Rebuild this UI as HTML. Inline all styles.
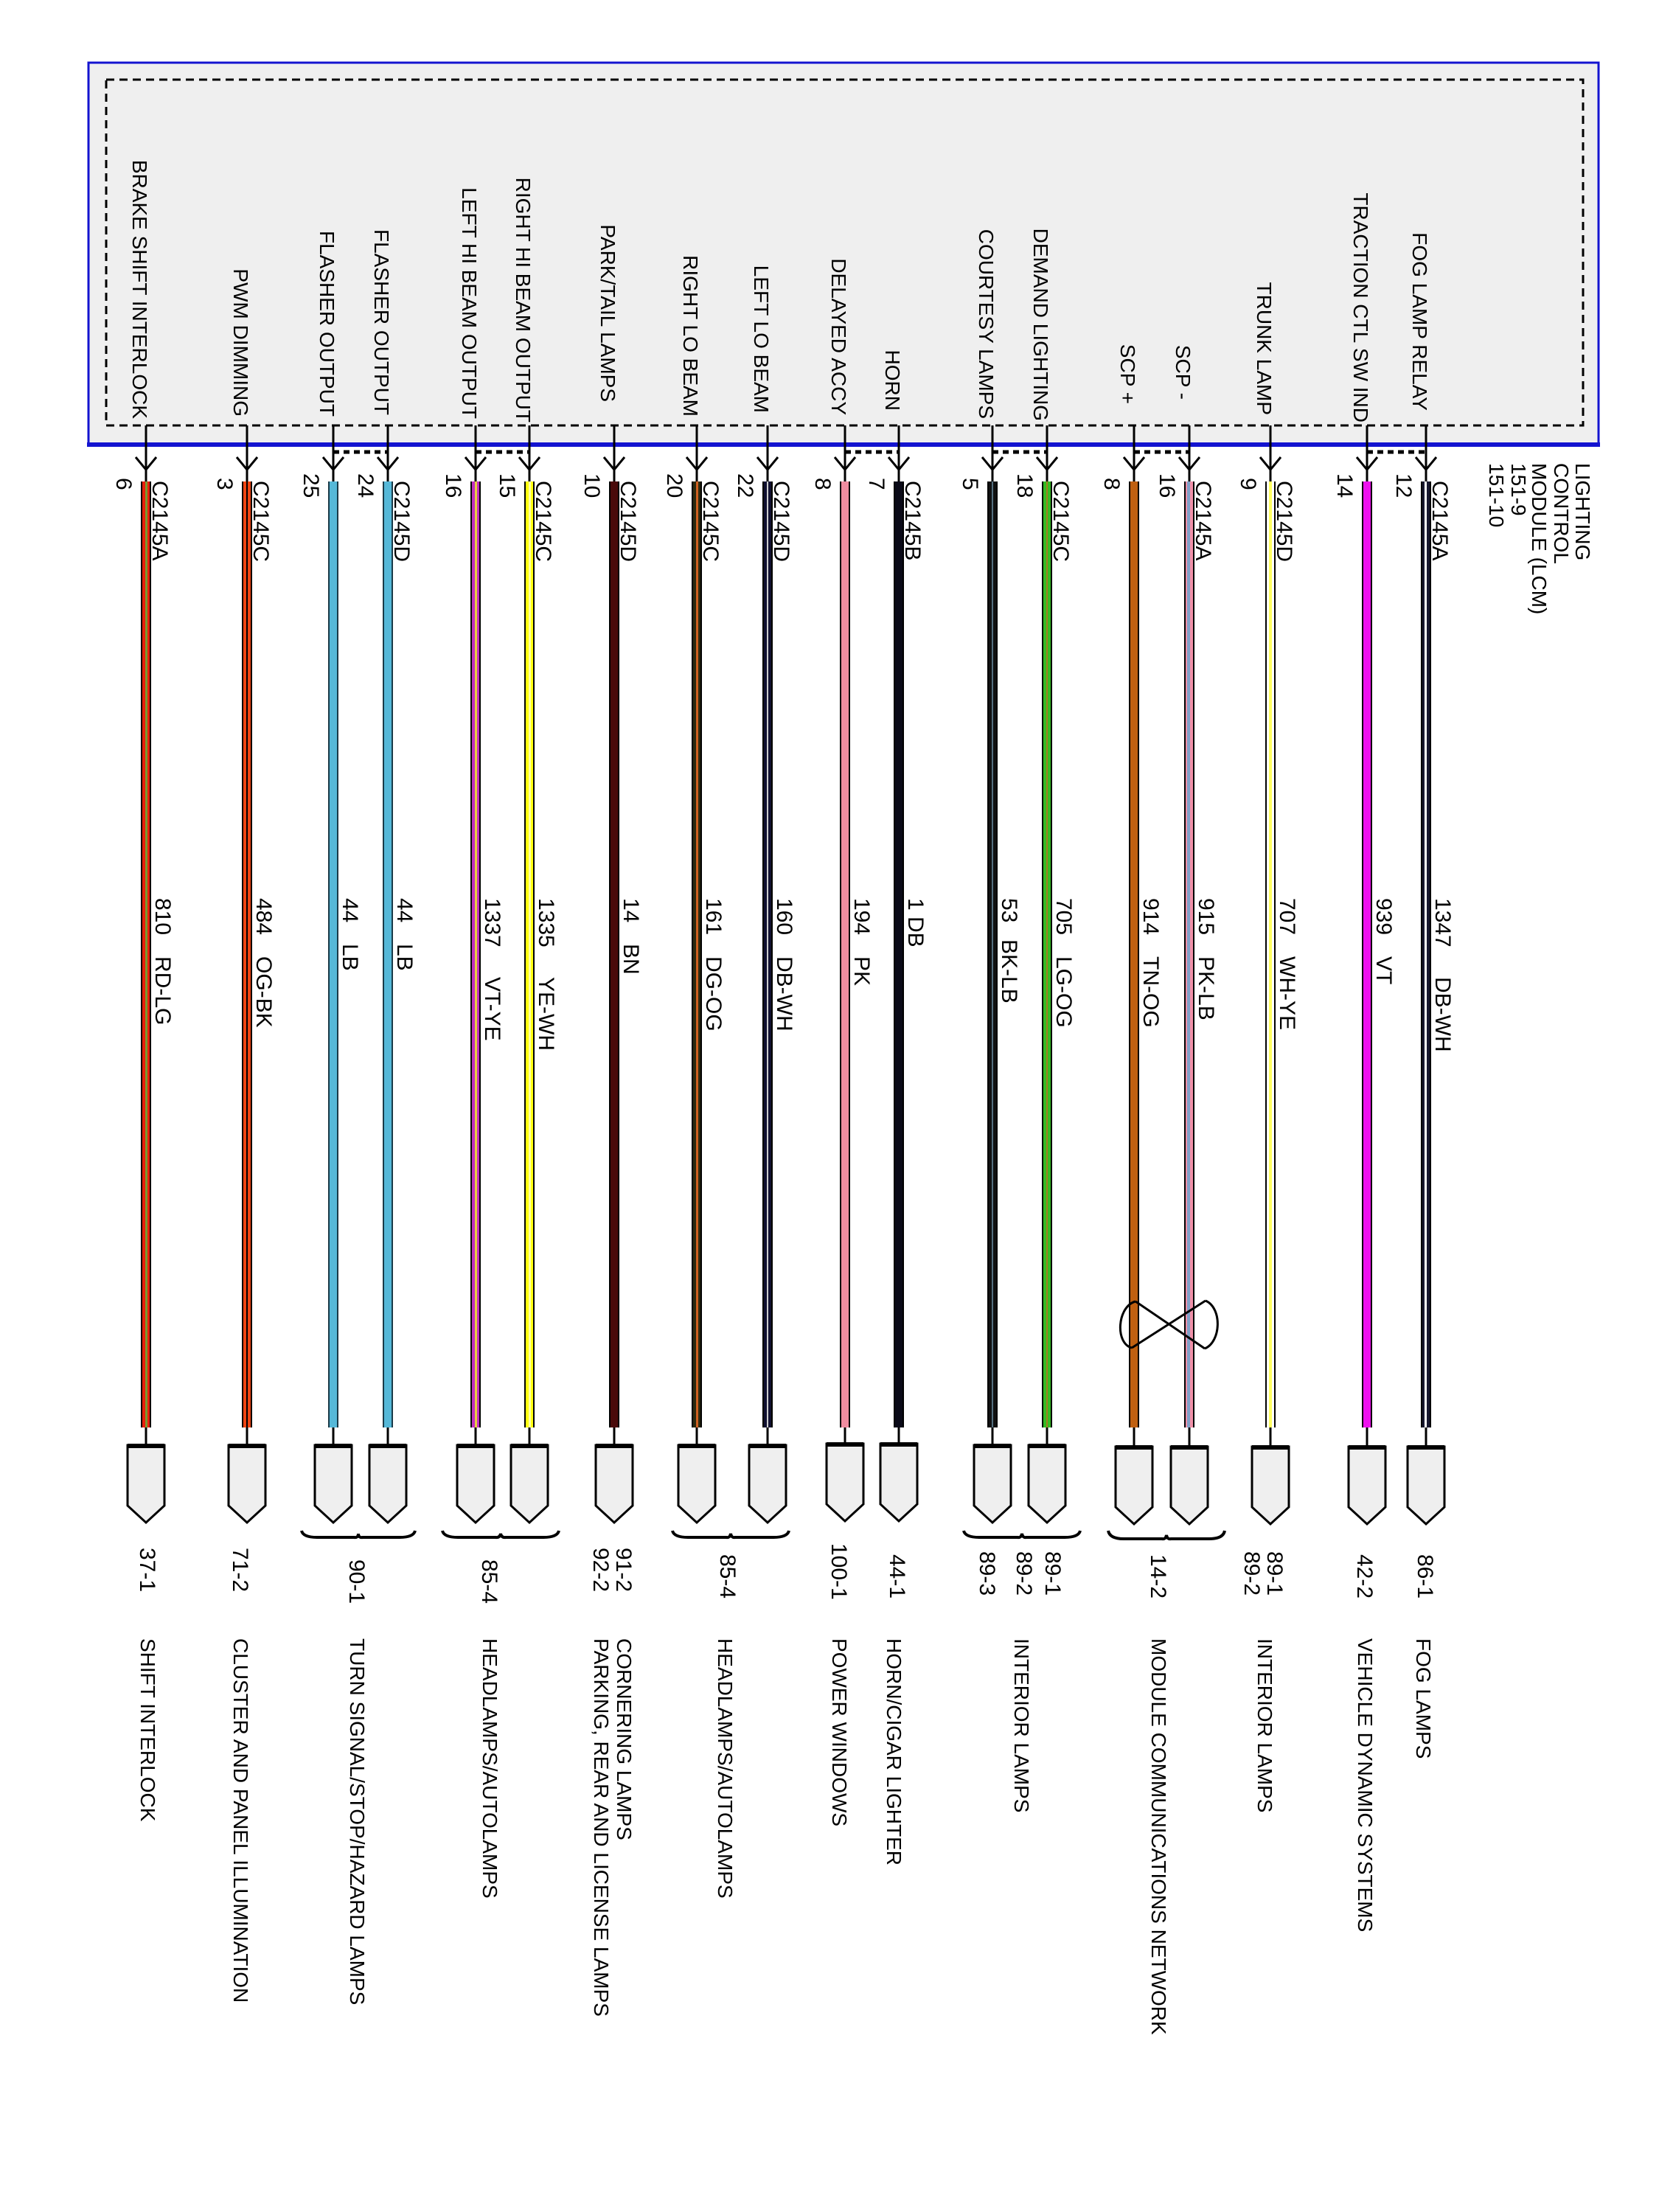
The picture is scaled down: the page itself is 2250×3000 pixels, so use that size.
<!DOCTYPE html>
<html><head><meta charset="utf-8"><style>
html,body{margin:0;padding:0;background:#fff}
svg{display:block}
text{font-family:"Liberation Sans",Arial,sans-serif;fill:#000}
.t{font-size:28px}
.s{font-size:30px}
</style></head><body>
<svg width="2250" height="3000" viewBox="0 0 2250 3000" xmlns="http://www.w3.org/2000/svg">
<rect width="2250" height="3000" fill="#fff"/>
<rect x="120" y="85" width="2048" height="518" fill="#efefef" stroke="#1414d0" stroke-width="3"/>
<line x1="118" y1="603" x2="2170" y2="603" stroke="#1414d0" stroke-width="6"/>
<rect x="144" y="108" width="2003" height="469" fill="none" stroke="#000" stroke-width="3" stroke-dasharray="11 7"/>

<g class="t">
<text transform="translate(180,568) rotate(90)" text-anchor="end">BRAKE SHIFT INTERLOCK</text>
<text transform="translate(317,565) rotate(90)" text-anchor="end">PWM DIMMING</text>
<text transform="translate(434,565) rotate(90)" text-anchor="end">FLASHER OUTPUT</text>
<text transform="translate(508,563) rotate(90)" text-anchor="end">FLASHER OUTPUT</text>
<text transform="translate(627,568) rotate(90)" text-anchor="end">LEFT HI BEAM OUTPUT</text>
<text transform="translate(700,573) rotate(90)" text-anchor="end">RIGHT HI BEAM OUTPUT</text>
<text transform="translate(815,545) rotate(90)" text-anchor="end">PARK/TAIL LAMPS</text>
<text transform="translate(927,565) rotate(90)" text-anchor="end">RIGHT LO BEAM</text>
<text transform="translate(1023,560) rotate(90)" text-anchor="end">LEFT LO BEAM</text>
<text transform="translate(1128,563) rotate(90)" text-anchor="end">DELAYED ACCY</text>
<text transform="translate(1201,557) rotate(90)" text-anchor="end">HORN</text>
<text transform="translate(1328,568) rotate(90)" text-anchor="end">COURTESY LAMPS</text>
<text transform="translate(1402,571) rotate(90)" text-anchor="end">DEMAND LIGHTING</text>
<text transform="translate(1520,548) rotate(90)" text-anchor="end">SCP +</text>
<text transform="translate(1595,542) rotate(90)" text-anchor="end">SCP -</text>
<text transform="translate(1705,563) rotate(90)" text-anchor="end">TRUNK LAMP</text>
<text transform="translate(1836,573) rotate(90)" text-anchor="end">TRACTION CTL SW IND</text>
<text transform="translate(1916,557) rotate(90)" text-anchor="end">FOG LAMP RELAY</text>
</g>

<g stroke="#000" stroke-width="5" stroke-dasharray="8 6">
<line x1="452" y1="613" x2="526" y2="613"/>
<line x1="645" y1="613" x2="718" y2="613"/>
<line x1="1146" y1="613" x2="1219" y2="613"/>
<line x1="1346" y1="613" x2="1420" y2="613"/>
<line x1="1538" y1="613" x2="1613" y2="613"/>
<line x1="1854" y1="613" x2="1934" y2="613"/>
</g>

<g stroke="#000" stroke-width="3" fill="none">
<path d="M198 577V655M184 620L198 637L212 620"/>
<path d="M335 577V655M321 620L335 637L349 620"/>
<path d="M452 577V655M438 620L452 637L466 620"/>
<path d="M526 577V655M512 620L526 637L540 620"/>
<path d="M645 577V655M631 620L645 637L659 620"/>
<path d="M718 577V655M704 620L718 637L732 620"/>
<path d="M833 577V655M819 620L833 637L847 620"/>
<path d="M945 577V655M931 620L945 637L959 620"/>
<path d="M1041 577V655M1027 620L1041 637L1055 620"/>
<path d="M1146 577V655M1132 620L1146 637L1160 620"/>
<path d="M1219 577V655M1205 620L1219 637L1233 620"/>
<path d="M1346 577V655M1332 620L1346 637L1360 620"/>
<path d="M1420 577V655M1406 620L1420 637L1434 620"/>
<path d="M1538 577V655M1524 620L1538 637L1552 620"/>
<path d="M1613 577V655M1599 620L1613 637L1627 620"/>
<path d="M1723 577V655M1709 620L1723 637L1737 620"/>
<path d="M1854 577V655M1840 620L1854 637L1868 620"/>
<path d="M1934 577V655M1920 620L1934 637L1948 620"/>
</g>

<g stroke="#000" stroke-width="3">
<line x1="198" y1="1930" x2="198" y2="1962"/><line x1="335" y1="1930" x2="335" y2="1962"/>
<line x1="452" y1="1930" x2="452" y2="1962"/><line x1="526" y1="1930" x2="526" y2="1962"/>
<line x1="645" y1="1930" x2="645" y2="1962"/><line x1="718" y1="1930" x2="718" y2="1962"/>
<line x1="833" y1="1930" x2="833" y2="1962"/><line x1="945" y1="1930" x2="945" y2="1962"/>
<line x1="1041" y1="1930" x2="1041" y2="1962"/><line x1="1146" y1="1930" x2="1146" y2="1962"/>
<line x1="1219" y1="1930" x2="1219" y2="1962"/><line x1="1346" y1="1930" x2="1346" y2="1962"/>
<line x1="1420" y1="1930" x2="1420" y2="1962"/><line x1="1538" y1="1930" x2="1538" y2="1962"/>
<line x1="1613" y1="1930" x2="1613" y2="1962"/><line x1="1723" y1="1930" x2="1723" y2="1962"/>
<line x1="1854" y1="1930" x2="1854" y2="1962"/><line x1="1934" y1="1930" x2="1934" y2="1962"/>
</g>

<g>
<rect x="191" y="653" width="14" height="1283" fill="#000"/><rect x="193" y="653" width="10" height="1283" fill="#e8200c"/><rect x="197" y="653" width="3" height="1283" fill="#7a9a30"/>
<rect x="328" y="653" width="14" height="1283" fill="#000"/><rect x="330" y="653" width="10" height="1283" fill="#f04412"/><rect x="334" y="653" width="2" height="1283" fill="#000"/>
<rect x="445" y="653" width="14" height="1283" fill="#1a3a48"/><rect x="447" y="653" width="10" height="1283" fill="#55b8d8"/>
<rect x="519" y="653" width="14" height="1283" fill="#1a3a48"/><rect x="521" y="653" width="10" height="1283" fill="#55b8d8"/>
<rect x="638" y="653" width="14" height="1283" fill="#000"/><rect x="640" y="653" width="10" height="1283" fill="#c030c0"/><rect x="644" y="653" width="3" height="1283" fill="#e8d040"/>
<rect x="711" y="653" width="14" height="1283" fill="#000"/><rect x="713" y="653" width="10" height="1283" fill="#ffff10"/><rect x="717" y="653" width="3" height="1283" fill="#ffffa0"/>
<rect x="826" y="653" width="14" height="1283" fill="#000"/><rect x="828" y="653" width="10" height="1283" fill="#4a0a0a"/>
<rect x="938" y="653" width="14" height="1283" fill="#000"/><rect x="940" y="653" width="10" height="1283" fill="#2a2a10"/><rect x="944" y="653" width="3" height="1283" fill="#d06020"/>
<rect x="1034" y="653" width="14" height="1283" fill="#000"/><rect x="1036" y="653" width="10" height="1283" fill="#101030"/><rect x="1040" y="653" width="2" height="1283" fill="#cccccc"/>
<rect x="1139" y="653" width="14" height="1283" fill="#000"/><rect x="1141" y="653" width="10" height="1283" fill="#f08ca0"/>
<rect x="1212" y="653" width="14" height="1283" fill="#000"/><rect x="1214" y="653" width="10" height="1283" fill="#0a0a18"/>
<rect x="1339" y="653" width="14" height="1283" fill="#000"/><rect x="1341" y="653" width="10" height="1283" fill="#111"/><rect x="1345" y="653" width="2" height="1283" fill="#557080"/>
<rect x="1413" y="653" width="14" height="1283" fill="#000"/><rect x="1415" y="653" width="10" height="1283" fill="#33bb22"/><rect x="1419" y="653" width="2" height="1283" fill="#a08020"/>
<rect x="1531" y="653" width="14" height="1283" fill="#000"/><rect x="1533" y="653" width="10" height="1283" fill="#c06010"/>
<rect x="1606" y="653" width="14" height="1283" fill="#000"/><rect x="1608" y="653" width="10" height="1283" fill="#f090a8"/><rect x="1610" y="653" width="4" height="1283" fill="#80a0c8"/>
<rect x="1716" y="653" width="14" height="1283" fill="#000"/><rect x="1718" y="653" width="10" height="1283" fill="#fff"/><rect x="1721" y="653" width="4" height="1283" fill="#ffff60"/>
<rect x="1847" y="653" width="14" height="1283" fill="#000"/><rect x="1849" y="653" width="10" height="1283" fill="#ee10ee"/>
<rect x="1927" y="653" width="14" height="1283" fill="#000"/><rect x="1929" y="653" width="10" height="1283" fill="#181830"/><rect x="1932" y="653" width="3" height="1283" fill="#fff"/>
</g>

<g class="s">
<text transform="translate(158,648) rotate(90)">6</text>
<text transform="translate(295,648) rotate(90)">3</text>
<text transform="translate(412,642) rotate(90)">25</text>
<text transform="translate(486,642) rotate(90)">24</text>
<text transform="translate(605,642) rotate(90)">16</text>
<text transform="translate(678,642) rotate(90)">15</text>
<text transform="translate(793,642) rotate(90)">10</text>
<text transform="translate(905,642) rotate(90)">20</text>
<text transform="translate(1001,642) rotate(90)">22</text>
<text transform="translate(1106,648) rotate(90)">8</text>
<text transform="translate(1179,648) rotate(90)">7</text>
<text transform="translate(1306,648) rotate(90)">5</text>
<text transform="translate(1380,642) rotate(90)">18</text>
<text transform="translate(1498,648) rotate(90)">8</text>
<text transform="translate(1573,642) rotate(90)">16</text>
<text transform="translate(1683,648) rotate(90)">9</text>
<text transform="translate(1814,642) rotate(90)">14</text>
<text transform="translate(1894,642) rotate(90)">12</text>
</g>
<g class="s">
<text transform="translate(207,652) rotate(90)">C2145A</text>
<text transform="translate(344,652) rotate(90)">C2145C</text>
<text transform="translate(535,652) rotate(90)">C2145D</text>
<text transform="translate(727,652) rotate(90)">C2145C</text>
<text transform="translate(842,652) rotate(90)">C2145D</text>
<text transform="translate(954,652) rotate(90)">C2145C</text>
<text transform="translate(1050,652) rotate(90)">C2145D</text>
<text transform="translate(1228,652) rotate(90)">C2145B</text>
<text transform="translate(1429,652) rotate(90)">C2145C</text>
<text transform="translate(1622,652) rotate(90)">C2145A</text>
<text transform="translate(1732,652) rotate(90)">C2145D</text>
<text transform="translate(1943,652) rotate(90)">C2145A</text>
</g>
<g class="t">
<text transform="translate(2137,628) rotate(90)">LIGHTING</text>
<text transform="translate(2108,628) rotate(90)">CONTROL</text>
<text transform="translate(2078,628) rotate(90)">MODULE (LCM)</text>
<text transform="translate(2050,628) rotate(90)">151-9</text>
<text transform="translate(2020,628) rotate(90)">151-10</text>
</g>

<g class="s">
<text transform="translate(211,1218) rotate(90)">810</text><text transform="translate(211,1297) rotate(90)">RD-LG</text>
<text transform="translate(348,1218) rotate(90)">484</text><text transform="translate(348,1297) rotate(90)">OG-BK</text>
<text transform="translate(465,1218) rotate(90)">44</text><text transform="translate(465,1280) rotate(90)">LB</text>
<text transform="translate(539,1218) rotate(90)">44</text><text transform="translate(539,1280) rotate(90)">LB</text>
<text transform="translate(658,1218) rotate(90)">1337</text><text transform="translate(658,1325) rotate(90)">VT-YE</text>
<text transform="translate(731,1218) rotate(90)">1335</text><text transform="translate(731,1325) rotate(90)">YE-WH</text>
<text transform="translate(846,1218) rotate(90)">14</text><text transform="translate(846,1280) rotate(90)">BN</text>
<text transform="translate(958,1218) rotate(90)">161</text><text transform="translate(958,1297) rotate(90)">DG-OG</text>
<text transform="translate(1054,1218) rotate(90)">160</text><text transform="translate(1054,1297) rotate(90)">DB-WH</text>
<text transform="translate(1159,1218) rotate(90)">194</text><text transform="translate(1159,1297) rotate(90)">PK</text>
<text transform="translate(1232,1218) rotate(90)">1 DB</text>
<text transform="translate(1359,1218) rotate(90)">53</text><text transform="translate(1359,1274) rotate(90)">BK-LB</text>
<text transform="translate(1433,1218) rotate(90)">705</text><text transform="translate(1433,1297) rotate(90)">LG-OG</text>
<text transform="translate(1551,1218) rotate(90)">914</text><text transform="translate(1551,1297) rotate(90)">TN-OG</text>
<text transform="translate(1626,1218) rotate(90)">915</text><text transform="translate(1626,1297) rotate(90)">PK-LB</text>
<text transform="translate(1736,1218) rotate(90)">707</text><text transform="translate(1736,1297) rotate(90)">WH-YE</text>
<text transform="translate(1867,1218) rotate(90)">939</text><text transform="translate(1867,1297) rotate(90)">VT</text>
<text transform="translate(1947,1218) rotate(90)">1347</text><text transform="translate(1947,1325) rotate(90)">DB-WH</text>
</g>

<g stroke="#000" stroke-width="3" fill="none">
<path d="M1540 1765 L1634 1829 M1535 1828 L1635 1764"/>
<path d="M1540 1765 C1515 1772 1512 1822 1535 1828"/>
<path d="M1635 1764 C1658 1774 1656 1820 1634 1829"/>
</g>

<g fill="#efefef" stroke="#000" stroke-width="3">
<path d="M173 1960H223V2042L198 2065L173 2042Z"/>
<path d="M310 1960H360V2042L335 2065L310 2042Z"/>
<path d="M427 1960H477V2042L452 2065L427 2042Z"/>
<path d="M501 1960H551V2042L526 2065L501 2042Z"/>
<path d="M620 1960H670V2042L645 2065L620 2042Z"/>
<path d="M693 1960H743V2042L718 2065L693 2042Z"/>
<path d="M808 1960H858V2042L833 2065L808 2042Z"/>
<path d="M920 1960H970V2042L945 2065L920 2042Z"/>
<path d="M1016 1960H1066V2042L1041 2065L1016 2042Z"/>
<path d="M1121 1958H1171V2040L1146 2063L1121 2040Z"/>
<path d="M1194 1958H1244V2040L1219 2063L1194 2040Z"/>
<path d="M1321 1960H1371V2042L1346 2065L1321 2042Z"/>
<path d="M1395 1960H1445V2042L1420 2065L1395 2042Z"/>
<path d="M1513 1962H1563V2044L1538 2067L1513 2044Z"/>
<path d="M1588 1962H1638V2044L1613 2067L1588 2044Z"/>
<path d="M1698 1962H1748V2044L1723 2067L1698 2044Z"/>
<path d="M1829 1962H1879V2044L1854 2067L1829 2044Z"/>
<path d="M1909 1962H1959V2044L1934 2067L1909 2044Z"/>
</g>
<g stroke="#000" stroke-width="6">
<line x1="173" y1="1961" x2="223" y2="1961"/><line x1="310" y1="1961" x2="360" y2="1961"/>
<line x1="427" y1="1961" x2="477" y2="1961"/><line x1="501" y1="1961" x2="551" y2="1961"/>
<line x1="620" y1="1961" x2="670" y2="1961"/><line x1="693" y1="1961" x2="743" y2="1961"/>
<line x1="808" y1="1961" x2="858" y2="1961"/><line x1="920" y1="1961" x2="970" y2="1961"/>
<line x1="1016" y1="1961" x2="1066" y2="1961"/><line x1="1121" y1="1959" x2="1171" y2="1959"/>
<line x1="1194" y1="1959" x2="1244" y2="1959"/><line x1="1321" y1="1961" x2="1371" y2="1961"/>
<line x1="1395" y1="1961" x2="1445" y2="1961"/><line x1="1513" y1="1963" x2="1563" y2="1963"/>
<line x1="1588" y1="1963" x2="1638" y2="1963"/><line x1="1698" y1="1963" x2="1748" y2="1963"/>
<line x1="1829" y1="1963" x2="1879" y2="1963"/><line x1="1909" y1="1963" x2="1959" y2="1963"/>
</g>

<g stroke="#000" stroke-width="4" fill="none">
<path d="M409 2076Q411 2085 430 2085H480Q486 2086 486 2080Q486 2086 492 2085H542Q561 2085 563 2076"/>
<path d="M600 2076Q602 2085 621 2085H672Q678 2086 679 2080Q680 2086 686 2085H737Q756 2085 758 2076"/>
<path d="M912 2076Q914 2085 933 2085H985Q990 2086 991 2080Q992 2086 997 2085H1049Q1068 2085 1070 2076"/>
<path d="M1307 2076Q1309 2085 1328 2085H1380Q1385 2086 1386 2080Q1387 2086 1392 2085H1444Q1463 2085 1465 2076"/>
<path d="M1503 2076Q1505 2087 1524 2087H1576Q1581 2088 1582 2082Q1583 2088 1588 2087H1640Q1659 2087 1661 2076"/>
</g>

<g class="s">
<text transform="translate(190,2099) rotate(90)">37-1</text>
<text transform="translate(316,2099) rotate(90)">71-2</text>
<text transform="translate(474,2115) rotate(90)">90-1</text>
<text transform="translate(654,2115) rotate(90)">85-4</text>
<text transform="translate(836,2099) rotate(90)">91-2</text>
<text transform="translate(805,2099) rotate(90)">92-2</text>
<text transform="translate(977,2108) rotate(90)">85-4</text>
<text transform="translate(1128,2093) rotate(90)">100-1</text>
<text transform="translate(1207,2108) rotate(90)">44-1</text>
<text transform="translate(1329,2104) rotate(90)">89-3</text>
<text transform="translate(1418,2104) rotate(90)">89-1</text>
<text transform="translate(1379,2104) rotate(90)">89-2</text>
<text transform="translate(1561,2108) rotate(90)">14-2</text>
<text transform="translate(1719,2104) rotate(90)">89-1</text>
<text transform="translate(1688,2104) rotate(90)">89-2</text>
<text transform="translate(1841,2108) rotate(90)">42-2</text>
<text transform="translate(1923,2108) rotate(90)">86-1</text>
</g>
<g class="t">
<text transform="translate(191,2222) rotate(90)">SHIFT INTERLOCK</text>
<text transform="translate(317,2222) rotate(90)">CLUSTER AND PANEL ILLUMINATION</text>
<text transform="translate(475,2222) rotate(90)">TURN SIGNAL/STOP/HAZARD LAMPS</text>
<text transform="translate(655,2222) rotate(90)">HEADLAMPS/AUTOLAMPS</text>
<text transform="translate(837,2222) rotate(90)">CORNERING LAMPS</text>
<text transform="translate(806,2222) rotate(90)">PARKING, REAR AND LICENSE LAMPS</text>
<text transform="translate(974,2222) rotate(90)">HEADLAMPS/AUTOLAMPS</text>
<text transform="translate(1129,2222) rotate(90)">POWER WINDOWS</text>
<text transform="translate(1203,2222) rotate(90)">HORN/CIGAR LIGHTER</text>
<text transform="translate(1376,2222) rotate(90)">INTERIOR LAMPS</text>
<text transform="translate(1562,2222) rotate(90)">MODULE COMMUNICATIONS NETWORK</text>
<text transform="translate(1706,2222) rotate(90)">INTERIOR LAMPS</text>
<text transform="translate(1842,2222) rotate(90)">VEHICLE DYNAMIC SYSTEMS</text>
<text transform="translate(1921,2222) rotate(90)">FOG LAMPS</text>
</g>
</svg>
</body></html>
